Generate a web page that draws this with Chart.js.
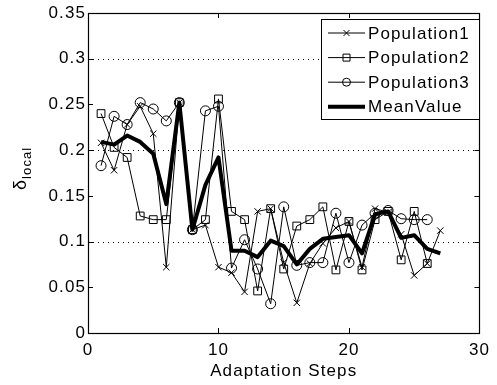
<!DOCTYPE html>
<html>
<head>
<meta charset="utf-8">
<title>delta local per adaptation step</title>
<script src="https://cdn.jsdelivr.net/npm/chart.js@4.4.0/dist/chart.umd.min.js"></script>
<style>
  html, body { margin: 0; padding: 0; background: #fff; }
  #wrap { width: 497px; height: 385px; }
</style>
</head>
<body>
<div id="wrap"><canvas id="deltaChart" width="497" height="385"></canvas></div>
<script>
// x positions (adaptation step number)
const steps = [1, 2, 3, 4, 5, 6, 7, 8, 9, 10, 11, 12, 13, 14, 15, 16, 17, 18, 19, 20, 21, 22, 23, 24, 25, 26, 27];

const population1 = [0.208, 0.178, 0.228, 0.248, 0.218, 0.072, 0.252, 0.113, 0.118, 0.072, 0.066, 0.045, 0.133, 0.136,
                     0.077, 0.033, 0.076, 0.098, 0.115, 0.122, 0.072, 0.136, 0.132, 0.108, 0.063, 0.076, 0.112];
const population2 = [0.240, 0.203, 0.192, 0.128, 0.124, 0.124, 0.252, 0.113, 0.124, 0.256, 0.133, 0.124, 0.046, 0.136,
                     0.070, 0.117, 0.124, 0.138, 0.069, 0.122, 0.069, 0.124, 0.133, 0.080, 0.133, 0.076];
const population3 = [0.183, 0.237, 0.228, 0.252, 0.245, 0.232, 0.252, 0.113, 0.243, 0.248, 0.071, 0.102, 0.070, 0.032,
                     0.138, 0.074, 0.077, 0.077, 0.131, 0.077, 0.118, 0.131, 0.134, 0.125, 0.124, 0.124];
const meanValue   = [0.209, 0.206, 0.216, 0.209, 0.196, 0.141, 0.252, 0.113, 0.162, 0.192, 0.090, 0.090, 0.083, 0.101,
                     0.095, 0.075, 0.092, 0.103, 0.105, 0.107, 0.087, 0.130, 0.133, 0.104, 0.107, 0.092, 0.087];

const xTicks = [0, 10, 20, 30];
const yTicks = [0, 0.05, 0.1, 0.15, 0.2, 0.25, 0.3, 0.35];
const gridLevels = [0.1, 0.2, 0.3];

const FONT = '"Liberation Sans", Arial, Helvetica, sans-serif';
const FONT_SIZE = 17;
const SPACING = '1.1px';

function toPoints(values) {
    return values.map((v, i) => ({ x: steps[i], y: v }));
}

// slightly wider text, like the helvetica of the figure
const letterSpacing = {
    id: 'letterSpacing',
    beforeLayout(chart) { chart.ctx.letterSpacing = SPACING; },
    beforeDraw(chart) { chart.ctx.letterSpacing = SPACING; }
};

// dotted horizontal lines
const dottedGrid = {
    id: 'dottedGrid',
    beforeDatasetsDraw(chart) {
        const { ctx, chartArea } = chart;
        const y = chart.scales.y;
        ctx.save();
        ctx.strokeStyle = '#000';
        ctx.lineWidth = 1;
        ctx.setLineDash([1, 4]);
        gridLevels.forEach(v => {
            const py = Math.round(y.getPixelForValue(v)) + 0.5;
            ctx.beginPath();
            ctx.moveTo(chartArea.left, py);
            ctx.lineTo(chartArea.right, py);
            ctx.stroke();
        });
        ctx.restore();
    }
};

function drawMarker(ctx, style, cx, cy) {
    ctx.beginPath();
    if (style === 'crossRot') {
        ctx.moveTo(cx - 3, cy - 3); ctx.lineTo(cx + 3, cy + 3);
        ctx.moveTo(cx - 3, cy + 3); ctx.lineTo(cx + 3, cy - 3);
    } else if (style === 'rect') {
        ctx.rect(cx - 3.5, cy - 3.5, 7, 7);
    } else if (style === 'circle') {
        ctx.arc(cx, cy, 4, 0, Math.PI * 2);
    }
    ctx.stroke();
}

// box, inward ticks, legend and the y label
const frame = {
    id: 'frame',
    afterDatasetsDraw(chart) {
        const { ctx, chartArea } = chart;
        const { left, right, top, bottom } = chartArea;
        const xs = chart.scales.x, ys = chart.scales.y;
        const tick = 5;
        ctx.save();
        ctx.strokeStyle = '#000';
        ctx.lineWidth = 1;
        ctx.setLineDash([]);

        ctx.beginPath();
        xTicks.forEach(v => {
            const px = Math.round(xs.getPixelForValue(v)) + 0.5;
            ctx.moveTo(px, bottom); ctx.lineTo(px, bottom - tick);
            ctx.moveTo(px, top); ctx.lineTo(px, top + tick);
        });
        yTicks.forEach(v => {
            const py = Math.round(ys.getPixelForValue(v)) + 0.5;
            ctx.moveTo(left, py); ctx.lineTo(left + tick, py);
            ctx.moveTo(right, py); ctx.lineTo(right - tick, py);
        });
        ctx.stroke();
        ctx.lineWidth = 1.2;
        ctx.strokeRect(Math.round(left) + 0.5, Math.round(top) + 0.5,
                       Math.round(right - left), Math.round(bottom - top));

        // legend
        const lx = 321, ly = 19, lw = 158, lh = 100;
        ctx.fillStyle = '#fff';
        ctx.fillRect(lx, ly, lw, lh);
        ctx.lineWidth = 1;
        ctx.strokeRect(lx + 0.5, ly + 0.5, lw, lh);
        ctx.font = FONT_SIZE + 'px ' + FONT;
        ctx.textBaseline = 'middle';
        ctx.textAlign = 'left';
        chart.data.datasets.forEach((ds, i) => {
            const ry = ly + 14 + i * 24.6;
            ctx.strokeStyle = '#000';
            ctx.lineWidth = ds.borderWidth;
            ctx.beginPath();
            ctx.moveTo(lx + 7, ry);
            ctx.lineTo(lx + 44, ry);
            ctx.stroke();
            if (ds.pointRadius > 0) {
                ctx.lineWidth = 1;
                drawMarker(ctx, ds.pointStyle, lx + 25.5, ry);
            }
            ctx.fillStyle = '#000';
            ctx.fillText(ds.label, lx + 47, ry + 1);
        });

        // y label: delta with subscript
        ctx.translate(26, 190);
        ctx.rotate(-Math.PI / 2);
        ctx.textBaseline = 'alphabetic';
        ctx.font = '18px ' + FONT;
        ctx.fillText('δ', 0, 0);
        const w = ctx.measureText('δ').width;
        ctx.font = '13px ' + FONT;
        ctx.fillText('local', w, 5);
        ctx.restore();
    }
};

const ctx = document.getElementById('deltaChart').getContext('2d');
const deltaChart = new Chart(ctx, {
    type: 'line',
    data: {
        datasets: [
            { label: 'Population1', data: toPoints(population1), borderColor: '#000', borderWidth: 1,
              pointStyle: 'crossRot', pointRadius: 4.5, pointBorderWidth: 1, pointBorderColor: '#000',
              pointBackgroundColor: 'rgba(0,0,0,0)', order: 4 },
            { label: 'Population2', data: toPoints(population2), borderColor: '#000', borderWidth: 1,
              pointStyle: 'rect', pointRadius: 5.5, pointBorderWidth: 1, pointBorderColor: '#000',
              pointBackgroundColor: 'rgba(0,0,0,0)', order: 3 },
            { label: 'Population3', data: toPoints(population3), borderColor: '#000', borderWidth: 1,
              pointStyle: 'circle', pointRadius: 5, pointBorderWidth: 1, pointBorderColor: '#000',
              pointBackgroundColor: 'rgba(0,0,0,0)', order: 2 },
            { label: 'MeanValue', data: toPoints(meanValue), borderColor: '#000', borderWidth: 4,
              pointRadius: 0, order: 1 }
        ]
    },
    options: {
        responsive: false,
        animation: false,
        devicePixelRatio: 1,
        layout: { padding: { top: 13, right: 12, left: 0, bottom: 0 } },
        elements: { line: { tension: 0, borderJoinStyle: 'round' } },
        plugins: { legend: { display: false }, tooltip: { enabled: false } },
        scales: {
            x: {
                type: 'linear', min: 0, max: 30,
                afterBuildTicks: axis => { axis.ticks = xTicks.map(v => ({ value: v })); },
                grid: { display: false, drawTicks: false },
                border: { display: false },
                ticks: { color: '#000', font: { family: FONT, size: FONT_SIZE }, padding: 7, maxRotation: 0 },
                title: { display: true, text: 'Adaptation Steps', color: '#000',
                         font: { family: FONT, size: FONT_SIZE }, padding: { top: 0, bottom: 3 } },
                afterFit: s => { s.height = 52; }
            },
            y: {
                type: 'linear', min: 0, max: 0.35,
                afterBuildTicks: axis => { axis.ticks = yTicks.map(v => ({ value: v })); },
                grid: { display: false, drawTicks: false },
                border: { display: false },
                ticks: { color: '#000', font: { family: FONT, size: FONT_SIZE }, padding: 2,
                         callback: v => String(+v.toFixed(2)) },
                afterFit: s => { s.width = 88; }
            }
        }
    },
    plugins: [letterSpacing, dottedGrid, frame]
});
</script>
</body>
</html>
